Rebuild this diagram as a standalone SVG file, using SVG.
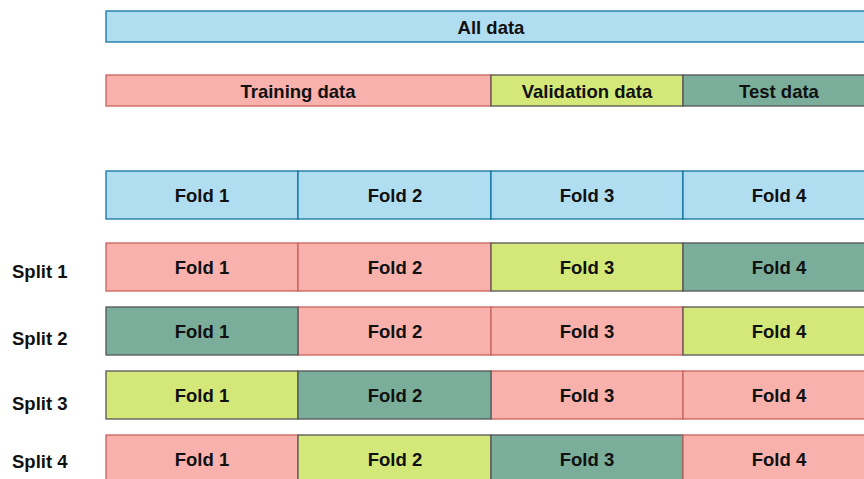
<svg xmlns="http://www.w3.org/2000/svg" width="864" height="479" viewBox="0 0 864 479">
  <style>
    text { font-family: "Liberation Sans", Arial, Helvetica, sans-serif; font-weight: bold; font-size: 18.5px; fill: #111; text-anchor: middle; dominant-baseline: central; }
    .lbl { text-anchor: start; }
    .all { fill: #b1ddf0; stroke: #10739e; stroke-width: 1.3; }
    .trn { fill: #f8b1ad; stroke: #c8625c; stroke-width: 1.3; }
    .val { fill: #d3e878; stroke: #555; stroke-width: 1.3; }
    .tst { fill: #7aad9a; stroke: #555; stroke-width: 1.3; }
  </style>
  <rect width="864" height="479" fill="#fff"/>

  <g id="all-data">
    <rect class="all" x="106" y="11" width="770" height="31"/>
    <text x="491" y="27">All data</text>
  </g>

  <g id="partition">
    <g id="training-data">
      <rect class="trn" x="106" y="75" width="385" height="31"/>
      <text x="298" y="91">Training data</text>
    </g>
    <g id="validation-data">
      <rect class="val" x="491" y="75" width="192" height="31"/>
      <text x="587" y="91">Validation data</text>
    </g>
    <g id="test-data">
      <rect class="tst" x="683" y="75" width="193" height="31"/>
      <text x="779" y="91">Test data</text>
    </g>
  </g>

  <g id="folds">
    <g id="fold-1"><rect class="all" x="106" y="171" width="192" height="48"/><text x="202" y="195">Fold 1</text></g>
    <g id="fold-2"><rect class="all" x="298" y="171" width="193" height="48"/><text x="395" y="195">Fold 2</text></g>
    <g id="fold-3"><rect class="all" x="491" y="171" width="192" height="48"/><text x="587" y="195">Fold 3</text></g>
    <g id="fold-4"><rect class="all" x="683" y="171" width="193" height="48"/><text x="779" y="195">Fold 4</text></g>
  </g>

  <g id="split-1">
    <text class="lbl" x="12" y="271">Split 1</text>
    <rect class="trn" x="106" y="243" width="192" height="48"/><text x="202" y="267">Fold 1</text>
    <rect class="trn" x="298" y="243" width="193" height="48"/><text x="395" y="267">Fold 2</text>
    <rect class="val" x="491" y="243" width="192" height="48"/><text x="587" y="267">Fold 3</text>
    <rect class="tst" x="683" y="243" width="193" height="48"/><text x="779" y="267">Fold 4</text>
  </g>

  <g id="split-2">
    <text class="lbl" x="12" y="338">Split 2</text>
    <rect class="trn" x="298" y="307" width="193" height="48"/><text x="395" y="331">Fold 2</text>
    <rect class="trn" x="491" y="307" width="192" height="48"/><text x="587" y="331">Fold 3</text>
    <rect class="tst" x="106" y="307" width="192" height="48"/><text x="202" y="331">Fold 1</text>
    <rect class="val" x="683" y="307" width="193" height="48"/><text x="779" y="331">Fold 4</text>
  </g>

  <g id="split-3">
    <text class="lbl" x="12" y="403">Split 3</text>
    <rect class="trn" x="491" y="371" width="192" height="48"/><text x="587" y="395">Fold 3</text>
    <rect class="trn" x="683" y="371" width="193" height="48"/><text x="779" y="395">Fold 4</text>
    <rect class="val" x="106" y="371" width="192" height="48"/><text x="202" y="395">Fold 1</text>
    <rect class="tst" x="298" y="371" width="193" height="48"/><text x="395" y="395">Fold 2</text>
  </g>

  <g id="split-4">
    <text class="lbl" x="12" y="461">Split 4</text>
    <rect class="trn" x="106" y="435" width="192" height="48"/><text x="202" y="459">Fold 1</text>
    <rect class="val" x="298" y="435" width="193" height="48"/><text x="395" y="459">Fold 2</text>
    <rect class="tst" x="491" y="435" width="192" height="48"/><text x="587" y="459">Fold 3</text>
    <rect class="trn" x="683" y="435" width="193" height="48"/><text x="779" y="459">Fold 4</text>
  </g>
</svg>
